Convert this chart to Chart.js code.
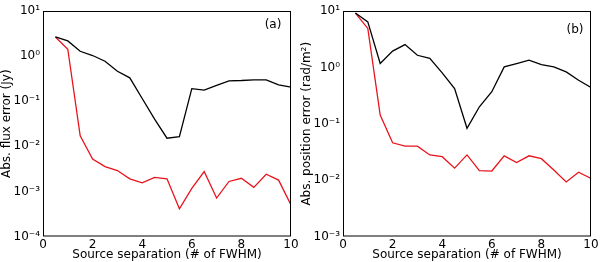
<!DOCTYPE html>
<html><head><meta charset="utf-8">
<script src="https://cdn.jsdelivr.net/npm/chart.js@4"></script>
<style>
html,body{margin:0;padding:0;background:#fff;}
#wrap{position:relative;width:600px;height:262px;}
canvas{position:absolute;top:0;}
</style></head>
<body><div id="wrap"><canvas id="ca" width="300" height="262" style="left:0"></canvas><canvas id="cb" width="300" height="262" style="left:300px"></canvas></div>
<script>
const separation = [0.5,1,1.5,2,2.5,3,3.5,4,4.5,5,5.5,6,6.5,7,7.5,8,8.5,9,9.5,10];
const fluxBlack = [2.66,2.17,1.28,1.03,0.77,0.46,0.33,0.115,0.04,0.0151,0.0163,0.19,0.176,0.224,0.283,0.288,0.298,0.298,0.23,0.204];
const fluxRed = [2.66,1.42,0.017,0.0052,0.00355,0.0029,0.0019,0.00155,0.00204,0.0019,0.00041,0.00117,0.00275,0.00071,0.00166,0.00195,0.00123,0.0024,0.00178,0.0005];
const posBlack = [9.2,6.4,1.17,1.94,2.54,1.64,1.44,0.80,0.42,0.083,0.20,0.37,1.02,1.17,1.34,1.12,1.02,0.83,0.59,0.44];
const posRed = [9.2,4.9,0.143,0.046,0.040,0.040,0.028,0.026,0.0163,0.028,0.0147,0.0145,0.027,0.0205,0.027,0.024,0.0151,0.0093,0.0138,0.0107];
const xTicks = [0,2,4,6,8,10];
const fluxTicks = [1e-4,1e-3,1e-2,1e-1,1,10];
const posTicks = [1e-3,1e-2,1e-1,1,10];

const sup = {'-':'⁻','0':'⁰','1':'¹','2':'²','3':'³','4':'⁴','5':'⁵','6':'⁶','7':'⁷','8':'⁸','9':'⁹'};
function fmtPow(v){ const e = Math.round(Math.log10(v)); return '10' + String(e).split('').map(c=>sup[c]).join(''); }

const FONT = "'DejaVu Sans', sans-serif";
Chart.defaults.font.family = FONT;
Chart.defaults.color = '#000';

const frame = {
  id:'frame',
  afterDraw(chart, args, opts){
    const {ctx, chartArea:a} = chart;
    ctx.save();
    ctx.strokeStyle = '#000'; ctx.lineWidth = 1;
    ctx.strokeRect(a.left+0.5, a.top+0.5, a.right-a.left-1, a.bottom-a.top-1);
    ctx.font = "12px " + FONT; ctx.fillStyle = '#000';
    ctx.textAlign = 'center'; ctx.textBaseline = 'middle';
    ctx.fillText(opts.label, opts.lx, opts.ly);
    ctx.restore();
  }
};

function pairs(xs, ys){ return xs.map((x,i)=>({x:x, y:ys[i]})); }

function makeChart(id, black, red, ticks, ymin, ymax, ytitle, label, ly){
  return new Chart(document.getElementById(id), {
    type:'line',
    data:{datasets:[
      {data:pairs(separation, black), borderColor:'#000', borderWidth:1.3, pointRadius:0, tension:0, fill:false},
      {data:pairs(separation, red), borderColor:'#e8141c', borderWidth:1.3, pointRadius:0, tension:0, fill:false}
    ]},
    options:{
      responsive:false, animation:false, devicePixelRatio:1,
      layout:{padding:{top:11, right:9, left:0, bottom:0}},
      plugins:{legend:{display:false}, tooltip:{enabled:false}, frame:{label:label, lx:0, ly:ly}},
      scales:{
        x:{type:'linear', min:0, max:10,
          afterBuildTicks(s){ s.ticks = xTicks.map(v=>({value:v})); },
          grid:{display:false, drawTicks:false}, border:{display:false},
          ticks:{font:{size:12}, padding:1, maxRotation:0, autoSkip:false, callback:v=>String(v)},
          title:{display:true, text:'Source separation (# of FWHM)', font:{size:12}, padding:{top:0,bottom:0}},
          afterFit(s){ s.height = 25.5; }
        },
        y:{type:'logarithmic', min:ymin, max:ymax,
          afterBuildTicks(s){ s.ticks = ticks.map(v=>({value:v})); },
          grid:{display:false, drawTicks:false}, border:{display:false},
          ticks:{font:{size:12}, padding:3, autoSkip:false, callback:v=>fmtPow(v)},
          title:{display:true, text:ytitle, font:{size:12}, padding:{top:0,bottom:0}},
          afterFit(s){ s.width = 43; }
        }
      }
    },
    plugins:[frame]
  });
}
const ca = makeChart('ca', fluxBlack, fluxRed, fluxTicks, 1e-4, 10, 'Abs. flux error (Jy)', '(a)', 25);
ca.options.plugins.frame.lx = 273; ca.update();
const cb = makeChart('cb', posBlack, posRed, posTicks, 1e-3, 10, 'Abs. position error (rad/m²)', '(b)', 30);
cb.options.plugins.frame.lx = 275; cb.update();
</script></body></html>
